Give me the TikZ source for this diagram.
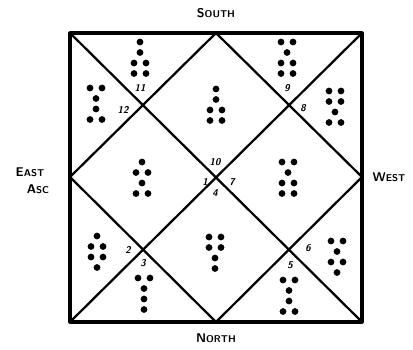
\documentclass[tikz,border=0pt]{standalone}
\usepackage{tikz}
\tikzset{
  frame/.style={line width=2.2pt,line join=round},
  split/.style={line width=1.6pt},
  pole/.style={font=\sffamily\bfseries\small,inner sep=1pt},
  housenum/.style={font=\sffamily\bfseries\itshape\scriptsize,inner sep=1pt}
}
% one geomantic figure: x, y of the top row, list of rows (1 or 2 dots)
\newcommand{\geofig}[3]{%
  \foreach \n [count=\i] in {#3} {
    \ifnum\n=1
      \fill (#1,#2+10.5*\i-10.5) circle (2.4pt);
    \else
      \fill (#1-6,#2+10.5*\i-10.5) circle (2.4pt);
      \fill (#1+6,#2+10.5*\i-10.5) circle (2.4pt);
    \fi
  }}

\begin{document}
\begin{tikzpicture}[x=0.025cm,y=-0.025cm]
\useasboundingbox (0,0) rectangle (413,349);
\coordinate (tl) at (70,33);
\coordinate (tr) at (362,33);
\coordinate (br) at (362,322);
\coordinate (bl) at (70,322);
\coordinate (top) at (216,33);
\coordinate (bot) at (216,322);
\coordinate (lft) at (70,177);
\coordinate (rgt) at (362,177);

\draw[split] (tl) -- (br);
\draw[split] (tr) -- (bl);
\draw[split] (top) -- (rgt) -- (bot) -- (lft) -- cycle;
\draw[frame] (tl) rectangle (br);

\node[pole] (south) at (216,13) {S{\scriptsize OUTH}};
\node[pole] (north) at (216,338) {N{\scriptsize ORTH}};
\node[pole] (east) at (30,172) {E{\scriptsize AST}};
\node[pole] (asc) at (38,189) {A{\scriptsize SC}};
\node[pole] (west) at (389,177) {W{\scriptsize EST}};

% house numbers
\node[housenum] (h10) at (215,162) {10};
\node[housenum] (h1) at (205,182) {1};
\node[housenum] (h7) at (232,182) {7};
\node[housenum] (h4) at (215,193) {4};
\node[housenum] (h11) at (140,88) {11};
\node[housenum] (h12) at (123,110) {12};
\node[housenum] (h9) at (287,88) {9};
\node[housenum] (h8) at (303,108) {8};
\node[housenum] (h2) at (128,250) {2};
\node[housenum] (h3) at (143,263) {3};
\node[housenum] (h6) at (308,248) {6};
\node[housenum] (h5) at (290,265) {5};

% figures
\geofig{216}{89}{1,1,2,2}
\geofig{142}{162}{1,2,1,2}
\geofig{288}{162}{2,1,2,2}
\geofig{215}{237}{2,2,1,1}
\geofig{140}{42}{1,1,2,2}
\geofig{287}{42}{2,1,2,2}
\geofig{96}{88}{2,1,1,2}
\geofig{335}{91}{2,2,1,2}
\geofig{97}{236}{1,2,2,1}
\geofig{144}{278}{2,1,1,1}
\geofig{289}{280}{2,1,1,2}
\geofig{337}{241}{2,1,2,1}
\end{tikzpicture}
\end{document}
